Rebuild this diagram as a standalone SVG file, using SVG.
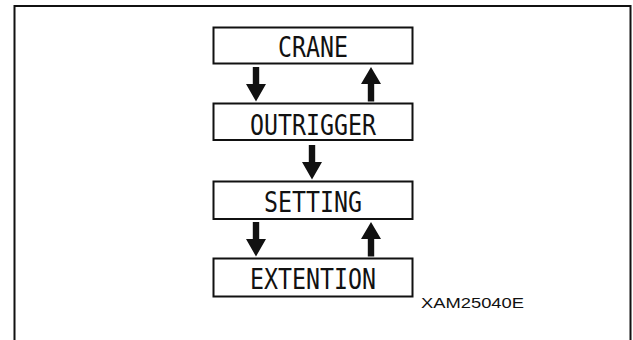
<svg xmlns="http://www.w3.org/2000/svg" width="633" height="340" viewBox="0 0 633 340">
  <style>
    .frame { fill: none; stroke: #111; stroke-width: 2; }
    .box { fill: #fff; stroke: #111; stroke-width: 2; }
    .lbl { font-family: "DejaVu Sans Mono", "Liberation Mono", monospace; font-size: 28px; fill: #111; text-anchor: middle; }
    .code { font-family: "Liberation Sans", Arial, sans-serif; font-size: 14px; fill: #111; }
    .arrow { fill: #111; }
  </style>
  <defs>
    <path id="down" d="M -3.2 0 H 3.2 V 17 H 10 L 0 34.5 L -10 17 H -3.2 Z"/>
    <path id="up" d="M -3.2 34.5 H 3.2 V 17 H 10 L 0 0 L -10 17 H -3.2 Z"/>
  </defs>
  <rect class="frame" x="14.5" y="6" width="616" height="345"/>
  <g id="connectors" class="arrow">
    <use href="#down" x="256" y="67"/>
    <use href="#up" x="371" y="67"/>
    <use href="#down" x="312" y="145"/>
    <use href="#down" x="256" y="222"/>
    <use href="#up" x="371" y="222"/>
  </g>
  <g id="crane">
    <rect class="box" x="213.5" y="27.5" width="199" height="36"/>
    <text class="lbl" x="313" y="57.3" textLength="70" lengthAdjust="spacingAndGlyphs">CRANE</text>
  </g>
  <g id="outrigger">
    <rect class="box" x="213.5" y="103.5" width="199" height="36.5"/>
    <text class="lbl" x="313" y="135" textLength="126" lengthAdjust="spacingAndGlyphs">OUTRIGGER</text>
  </g>
  <g id="setting">
    <rect class="box" x="213.5" y="181.5" width="199" height="37.5"/>
    <text class="lbl" x="313" y="212.3" textLength="98" lengthAdjust="spacingAndGlyphs">SETTING</text>
  </g>
  <g id="extention">
    <rect class="box" x="213.5" y="258.5" width="199" height="38"/>
    <text class="lbl" x="313" y="289.3" textLength="126" lengthAdjust="spacingAndGlyphs">EXTENTION</text>
  </g>
  <text class="code" x="421" y="308" textLength="103" lengthAdjust="spacingAndGlyphs">XAM25040E</text>
</svg>
